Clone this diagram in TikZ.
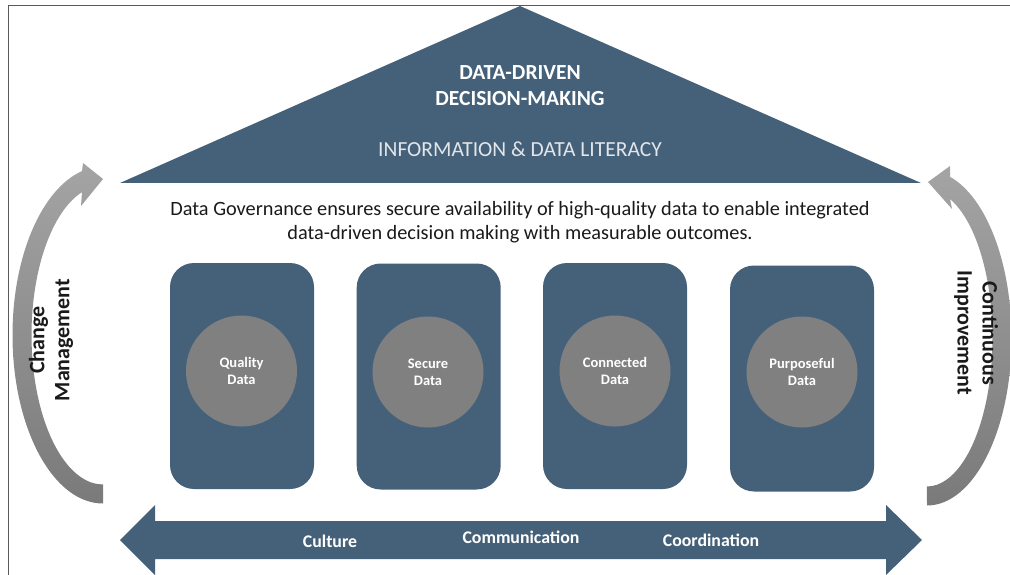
\documentclass[tikz,border=0pt]{standalone}
\usepackage{fontspec}
\setmainfont{Carlito}
\definecolor{slate}{HTML}{45617A}
\definecolor{disc}{HTML}{808080}
\definecolor{arrlight}{HTML}{A4A4A4}
\definecolor{arrdark}{HTML}{7A7A7A}
\definecolor{framegray}{HTML}{5A5A5A}
\definecolor{pale}{HTML}{E2E6EA}
\definecolor{ink}{HTML}{1A1A1A}
\tikzset{
  pillar/.style={draw=none, fill=slate, rounded corners=24pt, minimum width=144pt, minimum height=226pt, inner sep=0pt},
  disk/.style={circle, fill=disc, minimum size=111pt, inner sep=0pt, text=white, align=center, font=\bfseries\fontsize{14.5}{17}\selectfont},
  rooftext/.style={text=white, align=center, font=\bfseries\fontsize{21.5}{26}\selectfont},
  basetext/.style={text=white, font=\bfseries\fontsize{17.8}{20}\selectfont},
  sidetext/.style={text=ink, align=center, font=\bfseries\fontsize{22}{25}\selectfont},
}
\begin{document}
\begin{tikzpicture}[x=1pt,y=-1pt]
\useasboundingbox (0,0) rectangle (1010,575);
% frame
\draw[framegray, line width=1.5pt] (8.5,575) -- (8.5,5.5) -- (1010,5.5);
% roof
\fill[slate] (520,6) -- (921,183) -- (120,183) -- cycle;
\node[rooftext] (title) at (520,86) {DATA-DRIVEN\\DECISION-MAKING};
\node[text=pale, font=\fontsize{21.5}{24}\selectfont] (literacy) at (520,149) {INFORMATION \& DATA LITERACY};
% governance statement
\node[text=ink, align=center, font=\fontsize{20.3}{24}\selectfont] (gov) at (520,222)
  {Data Governance ensures secure availability of high-quality data to enable integrated\\data-driven decision making with measurable outcomes.};
% pillars
\node[pillar] (p1) at (242,376) {};
\node[pillar] (p2) at (428.7,376.5) {};
\node[pillar] (p3) at (615,376) {};
\node[pillar] (p4) at (802,378.5) {};
\node[disk] (d1) at (241.5,371) {Quality\\Data};
\node[disk] (d2) at (428,372) {Secure\\Data};
\node[disk] (d3) at (615,371) {Connected\\Data};
\node[disk] (d4) at (802,372) {Purposeful\\Data};
% base double arrow
\fill[slate] (120,540) -- (155,505) -- (155,521) -- (886,521) -- (886,505) -- (922,540) -- (886,575) -- (886,559) -- (155,559) -- (155,575) -- cycle;
\node[basetext] (culture) at (330,541) {Culture};
\node[basetext] (comm) at (521,537) {Communication};
\node[basetext] (coord) at (711,540) {Coordination};
% left curved arrow
\shade[top color=arrlight, bottom color=arrdark]
  (103,503.5) arc[start angle=90, end angle=256.6, x radius=90.5, y radius=168.5]
  -- (83,163) -- (103,179) -- (81,206) -- (82,192.1)
  arc[start angle=252.9, end angle=90, x radius=71.5, y radius=149.5] -- cycle;
% right curved arrow
\shade[top color=arrlight, bottom color=arrdark]
  (927,505.5) arc[start angle=90, end angle=-74.2, x radius=84.5, y radius=167.5]
  -- (950,166) -- (928,182) -- (952,209) -- (950,199)
  arc[start angle=-69.4, end angle=90, x radius=65.5, y radius=148.5] -- cycle;
\node[sidetext, rotate=90] (change) at (51,340) {Change\\Management};
\node[sidetext, rotate=-90] (cont) at (976,333) {Continuous\\Improvement};
\end{tikzpicture}
\end{document}
